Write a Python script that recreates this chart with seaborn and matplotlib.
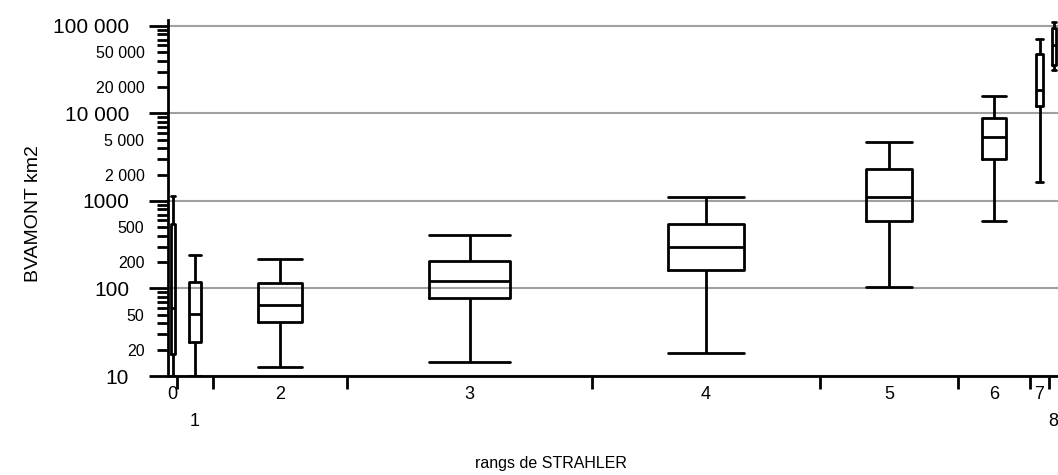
import numpy as np
import pandas as pd
import matplotlib
matplotlib.use('Agg')
import matplotlib.pyplot as plt
import seaborn as sns
from matplotlib.ticker import FixedLocator, FixedFormatter, FuncFormatter

# rangs de Strahler et effectif relatif (largeur de chaque colonne)
ranks = [0, 1, 2, 3, 4, 5, 6, 7, 8]
effectifs = [9, 36, 134, 245, 228, 138, 72, 19, 9]

# resume en 5 valeurs de BVAMONT (km2) pour chaque rang
mini = [10, 10, 12.7, 14.4, 18.3, 103, 584, 1630, 31400]
q1 = [18, 24.4, 41, 77, 161, 584, 3050, 12250, 35800]
mediane = [60, 51, 64, 121, 295, 1125, 5430, 18600, 60000]
q3 = [550, 118, 115, 205, 540, 2345, 8950, 48000, 95000]
maxi = [1150, 239, 215, 404, 1096, 4770, 15900, 71100, 111000]

major_ticks = [10, 100, 1000, 10000, 100000]
major_labels = ['10', '100', '1000', '10 000', '100 000']
minor_labeled = {20: '20', 50: '50', 200: '200', 500: '500', 2000: '2 000',
                 5000: '5 000', 20000: '20 000', 50000: '50 000'}
stagger = [1, 8]  # labels on second row

sns.set_style('white')
plt.rcParams['font.family'] = ['Liberation Sans', 'DejaVu Sans']

edges = np.concatenate([[0], np.cumsum(effectifs)])
centers = (edges[:-1] + edges[1:]) / 2

df = pd.DataFrame({
    'rang': np.repeat(ranks, 5),
    'pos': np.repeat(centers, 5),
    'bv': np.column_stack([mini, q1, mediane, q3, maxi]).ravel(),
})

fig = plt.figure(figsize=(10.58, 4.75), dpi=100)
ax = fig.add_axes([168 / 1058, 1 - 376 / 475, 890 / 1058, 356 / 475])
ax.set_yscale('log')

for i, r in enumerate(ranks):
    sub = df[df['rang'] == r]
    w = max(effectifs[i] / 3, 4)
    sns.boxplot(data=sub, x='pos', y='bv', native_scale=True, log_scale=(False, True),
                width=w, whis=(0, 100), fill=False, color='black', linewidth=2,
                capwidths=w, ax=ax)

ax.set_xlim(0, edges[-1])
ax.set_ylim(10, 117000)

# y axis
ax.yaxis.set_major_locator(FixedLocator(major_ticks))
ax.yaxis.set_major_formatter(FixedFormatter(major_labels))
minor_pos = [m * 10 ** d for d in range(1, 5) for m in range(2, 10)]
ax.yaxis.set_minor_locator(FixedLocator(minor_pos))
ax.yaxis.set_minor_formatter(FuncFormatter(lambda v, p: minor_labeled.get(int(round(v)), '')))
ax.tick_params(axis='y', which='major', left=True, length=14, width=2, labelsize=15,
               pad=14, color='black', labelcolor='black')
ax.tick_params(axis='y', which='minor', left=True, length=8, width=2, labelsize=11.5,
               pad=9, color='black', labelcolor='black')

# x axis
ax.set_xticks(edges[1:-1], minor=True)
ax.set_xticks(centers, [str(r) for r in ranks])
ax.tick_params(axis='x', which='major', bottom=True, length=0, labelsize=13, pad=7,
               labelcolor='black')
ax.tick_params(axis='x', which='minor', bottom=True, length=9, width=2, color='black')
for i in stagger:
    ax.xaxis.get_major_ticks()[i].set_pad(27)

ax.grid(axis='y', which='major', color='#a0a0a0', linewidth=1.5)
ax.grid(axis='x', visible=False)
ax.set_axisbelow(True)
sns.despine(ax=ax)
for s in ['left', 'bottom']:
    ax.spines[s].set_linewidth(2)
    ax.spines[s].set_color('black')

ax.set_ylabel('BVAMONT km2', fontsize=14, color='black')
ax.yaxis.set_label_coords(-0.142, 0.455)
ax.set_xlabel('rangs de STRAHLER', fontsize=11.5, color='black')
ax.xaxis.set_label_coords(0.43, -0.225)

fig.savefig('out.png', dpi=100)
